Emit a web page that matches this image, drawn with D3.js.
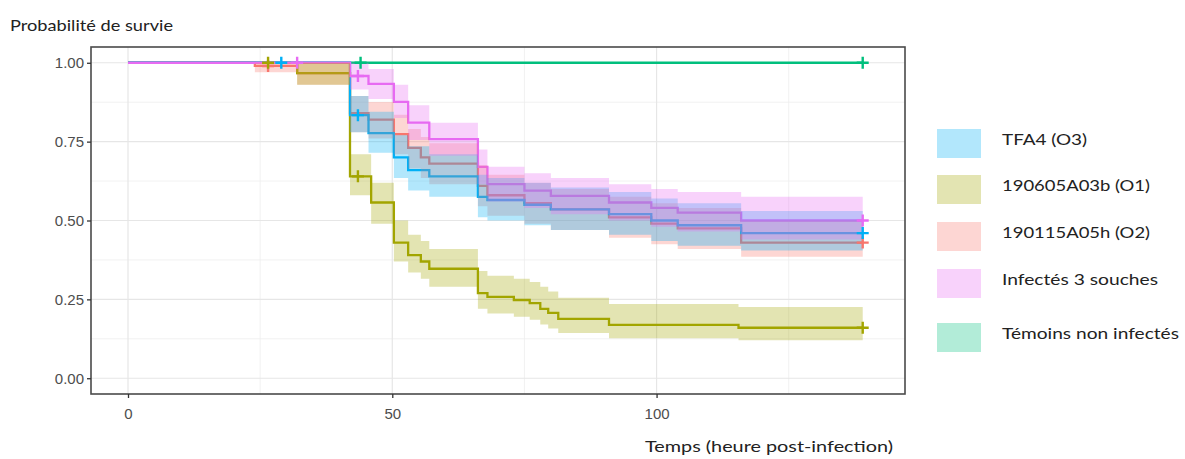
<!DOCTYPE html>
<html><head><meta charset="utf-8">
<script src="https://cdn.jsdelivr.net/npm/d3@7"></script>
<style>body{margin:0;background:#fff}</style>
</head><body>
<svg id="chart" width="1185" height="459"></svg>
<script>
// ---------------- DATA ----------------
const legendLabels = ["TFA4 (O3)", "190605A03b (O1)", "190115A05h (O2)", "Infectés 3 souches", "Témoins non infectés"];
const seriesColors = ["#00B0F6", "#A3A500", "#F8766D", "#E76BF3", "#00BF7D"];
const drawOrder = [2, 1, 4, 0, 3]; // ggplot factor order (O2, O1, Témoins, TFA4, Infectés)
const endTime = 139;
const xTicks = [0, 50, 100];
const yTicks = [0, 0.25, 0.5, 0.75, 1];
const xMinorTicks = [25, 75, 125];
const yMinorTicks = [0.125, 0.375, 0.625, 0.875];

// TFA4 (O3)
const tfa4Time   = [0, 42, 45.5, 50.3, 53, 57, 66.2, 68, 75, 80, 91, 99, 104, 116];
const tfa4Surv   = [1, 0.834, 0.777, 0.70, 0.66, 0.64, 0.575, 0.565, 0.55, 0.535, 0.52, 0.50, 0.485, 0.46];
const tfa4Lower  = [1, 0.78, 0.715, 0.635, 0.595, 0.575, 0.51, 0.50, 0.485, 0.47, 0.455, 0.435, 0.42, 0.405];
const tfa4Upper  = [1, 0.895, 0.845, 0.77, 0.735, 0.71, 0.645, 0.635, 0.62, 0.605, 0.59, 0.57, 0.555, 0.53];
const tfa4Censor = [29, 43.5, 139];

// 190605A03b (O1)
const o1Time   = [0, 32, 42, 46, 50.3, 53, 55.4, 57, 66.2, 68, 73, 76, 78, 79.5, 81.4, 91, 115.5];
const o1Surv   = [1, 0.967, 0.64, 0.557, 0.43, 0.39, 0.37, 0.347, 0.27, 0.258, 0.248, 0.238, 0.22, 0.207, 0.188, 0.169, 0.16];
const o1Lower  = [1, 0.93, 0.58, 0.49, 0.37, 0.335, 0.315, 0.29, 0.22, 0.205, 0.195, 0.185, 0.17, 0.158, 0.143, 0.127, 0.12];
const o1Upper  = [1, 1, 0.71, 0.62, 0.50, 0.455, 0.435, 0.41, 0.34, 0.325, 0.315, 0.305, 0.29, 0.275, 0.255, 0.235, 0.226];
const o1Censor = [26.5, 43.5, 139];

// 190115A05h (O2)
const o2Time   = [0, 24, 32, 42, 45.5, 50.3, 53, 55.4, 57, 66.2, 68, 75, 80, 91, 99, 104, 116];
const o2Surv   = [1, 0.99, 0.967, 0.84, 0.82, 0.774, 0.73, 0.70, 0.68, 0.61, 0.58, 0.555, 0.535, 0.51, 0.49, 0.475, 0.43];
const o2Lower  = [1, 0.97, 0.93, 0.78, 0.76, 0.71, 0.665, 0.635, 0.615, 0.545, 0.515, 0.49, 0.47, 0.445, 0.425, 0.41, 0.385];
const o2Upper  = [1, 1, 1, 0.895, 0.876, 0.835, 0.79, 0.765, 0.745, 0.675, 0.645, 0.62, 0.60, 0.575, 0.555, 0.54, 0.50];
const o2Censor = [26.5, 139];

// Infectés 3 souches
const mixTime   = [0, 42, 45.5, 50.3, 53, 57, 66.2, 68, 75, 80, 91, 99, 104, 116];
const mixSurv   = [1, 0.958, 0.933, 0.876, 0.81, 0.758, 0.67, 0.615, 0.595, 0.578, 0.557, 0.54, 0.525, 0.50];
const mixLower  = [1, 0.915, 0.885, 0.825, 0.755, 0.705, 0.615, 0.56, 0.54, 0.52, 0.50, 0.48, 0.465, 0.44];
const mixUpper  = [1, 1, 0.98, 0.93, 0.865, 0.81, 0.725, 0.67, 0.65, 0.635, 0.615, 0.60, 0.59, 0.575];
const mixCensor = [32, 43.5, 139];

// Témoins non infectés
const ctlTime   = [0];
const ctlSurv   = [1];
const ctlLower  = [1];
const ctlUpper  = [1];
const ctlCensor = [44, 139];

const yTitle = "Probabilité de survie";
const xTitle = "Temps (heure post-infection)";

// ---------------- LAYOUT ----------------
const panel = {left: 91, right: 905, top: 47, bottom: 394};
const svg = d3.select("#chart");
const x = d3.scaleLinear().domain([-7, 147]).range([panel.left, panel.right]);
const y = d3.scaleLinear().domain([-0.05, 1.05]).range([panel.bottom, panel.top]);

const series = [
  {time: tfa4Time, surv: tfa4Surv, lower: tfa4Lower, upper: tfa4Upper, censor: tfa4Censor},
  {time: o1Time, surv: o1Surv, lower: o1Lower, upper: o1Upper, censor: o1Censor},
  {time: o2Time, surv: o2Surv, lower: o2Lower, upper: o2Upper, censor: o2Censor},
  {time: mixTime, surv: mixSurv, lower: mixLower, upper: mixUpper, censor: mixCensor},
  {time: ctlTime, surv: ctlSurv, lower: ctlLower, upper: ctlUpper, censor: ctlCensor}
].map((s, i) => {
  const pts = s.time.map((t, j) => ({t, s: s.surv[j], lo: s.lower[j], hi: s.upper[j]}));
  const last = pts[pts.length - 1];
  pts.push({t: endTime, s: last.s, lo: last.lo, hi: last.hi});
  return {...s, pts, color: seriesColors[i], label: legendLabels[i]};
});

// panel background
svg.append("rect").attr("x", panel.left).attr("y", panel.top)
  .attr("width", panel.right - panel.left).attr("height", panel.bottom - panel.top).attr("fill", "#fff");

const grid = svg.append("g");
grid.selectAll(".xmin").data(xMinorTicks).join("line")
  .attr("x1", d => x(d)).attr("x2", d => x(d)).attr("y1", panel.top).attr("y2", panel.bottom)
  .attr("stroke", "#EDEDED").attr("stroke-width", 0.8);
grid.selectAll(".ymin").data(yMinorTicks).join("line")
  .attr("y1", d => y(d)).attr("y2", d => y(d)).attr("x1", panel.left).attr("x2", panel.right)
  .attr("stroke", "#EDEDED").attr("stroke-width", 0.8);
grid.selectAll(".xmaj").data(xTicks).join("line")
  .attr("x1", d => x(d)).attr("x2", d => x(d)).attr("y1", panel.top).attr("y2", panel.bottom)
  .attr("stroke", "#E6E6E6").attr("stroke-width", 1.2);
grid.selectAll(".ymaj").data(yTicks).join("line")
  .attr("y1", d => y(d)).attr("y2", d => y(d)).attr("x1", panel.left).attr("x2", panel.right)
  .attr("stroke", "#E6E6E6").attr("stroke-width", 1.2);

const line = d3.line().x(d => x(d.t)).y(d => y(d.s)).curve(d3.curveStepAfter);
const area = d3.area().x(d => x(d.t)).y0(d => y(d.lo)).y1(d => y(d.hi)).curve(d3.curveStepAfter);

const plotG = svg.append("g");
drawOrder.forEach(i => {
  const s = series[i];
  plotG.append("path").attr("d", line(s.pts)).attr("fill", "none")
    .attr("stroke", s.color).attr("stroke-width", 2.3);
});
drawOrder.forEach(i => {
  const s = series[i];
  plotG.append("path").attr("d", area(s.pts)).attr("fill", s.color).attr("fill-opacity", 0.3).attr("stroke", "none");
});
drawOrder.forEach(i => {
  const s = series[i];
  s.censor.forEach(c => {
    const j = d3.bisectRight(s.pts.map(p => p.t), c) - 1;
    const cx = x(c), cy = y(s.pts[Math.max(0, j)].s);
    plotG.append("path").attr("d", `M${cx - 6},${cy}H${cx + 6}M${cx},${cy - 6}V${cy + 6}`)
      .attr("stroke", s.color).attr("stroke-width", 2.4).attr("fill", "none");
  });
});

// panel border
svg.append("rect").attr("x", panel.left).attr("y", panel.top)
  .attr("width", panel.right - panel.left).attr("height", panel.bottom - panel.top)
  .attr("fill", "none").attr("stroke", "#4a4a4a").attr("stroke-width", 1.6);

// axes
const yAxis = svg.append("g").attr("transform", `translate(${panel.left},0)`)
  .call(d3.axisLeft(y).tickValues(yTicks).tickFormat(d3.format(".2f")).tickSize(4).tickPadding(3));
const xAxis = svg.append("g").attr("transform", `translate(0,${panel.bottom})`)
  .call(d3.axisBottom(x).tickValues(xTicks).tickFormat(d3.format("d")).tickSize(4).tickPadding(10));
[yAxis, xAxis].forEach(a => {
  a.select(".domain").remove();
  a.selectAll(".tick line").attr("stroke", "#333").attr("stroke-width", 1.3);
  a.selectAll(".tick text").attr("fill", "#4D4D4D").style("font-family", "'Liberation Sans', Arial, sans-serif").style("font-size", "15px");
});

function fitText(sel, width) {
  sel.attr("textLength", width).attr("lengthAdjust", "spacingAndGlyphs");
}

const tFont = "Lato, 'Open Sans', sans-serif";
fitText(svg.append("text").attr("x", 10).attr("y", 31).text(yTitle)
  .style("font-family", tFont).style("font-size", "15px").attr("fill", "#222"), 163);
fitText(svg.append("text").attr("x", 645).attr("y", 452).text(xTitle)
  .style("font-family", tFont).style("font-size", "16px").attr("fill", "#222"), 248);

// legend
const legendWidths = [85, 148, 148, 156, 177];
const legendRowY = [129, 175, 222, 269, 323];
const lg = svg.append("g");
legendLabels.forEach((lab, i) => {
  lg.append("rect").attr("x", 937).attr("y", legendRowY[i]).attr("width", 44).attr("height", 29)
    .attr("fill", seriesColors[i]).attr("fill-opacity", 0.3);
  fitText(lg.append("text").attr("x", 1002).attr("y", legendRowY[i] + 16).text(lab)
    .style("font-family", tFont).style("font-size", "16px").attr("fill", "#222"), legendWidths[i]);
});
</script>
</body></html>
